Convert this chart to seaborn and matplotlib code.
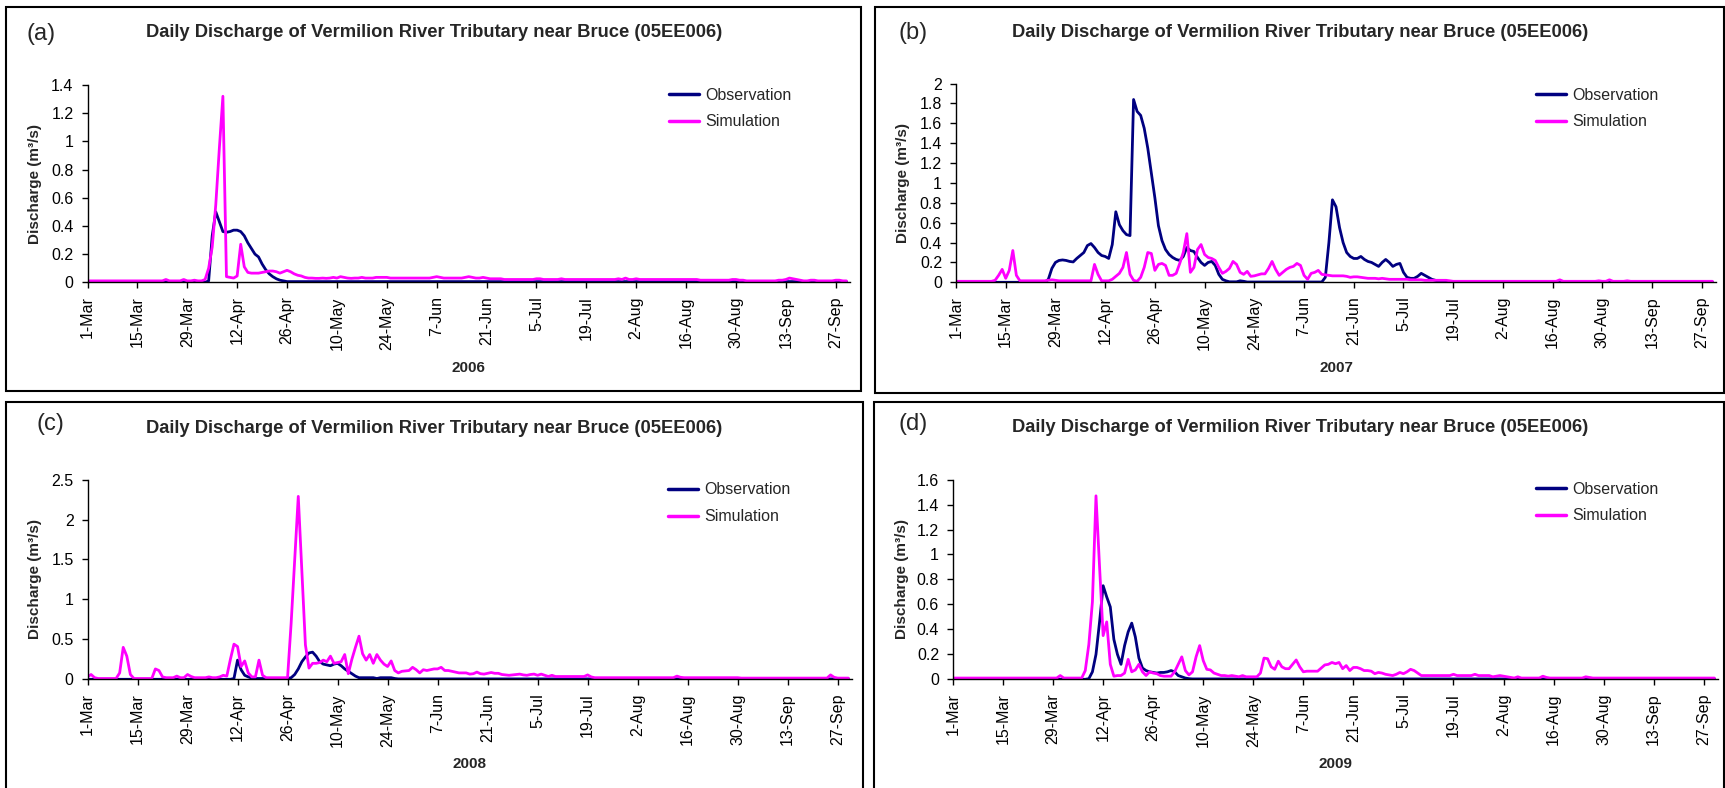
import numpy as np
import matplotlib
matplotlib.use("Agg")
import matplotlib.pyplot as plt
from matplotlib.patches import Rectangle
from matplotlib.lines import Line2D
from matplotlib.ticker import FuncFormatter
import seaborn as sns

# ---------------- data (daily values, 1-Mar .. 30-Sep) ----------------
TICK_LABELS = ["1-Mar", "15-Mar", "29-Mar", "12-Apr", "26-Apr", "10-May", "24-May", "7-Jun",
               "21-Jun", "5-Jul", "19-Jul", "2-Aug", "16-Aug", "30-Aug", "13-Sep", "27-Sep"]
YEARS = ["2006", "2007", "2008", "2009"]
PANEL_LABELS = ["(a)", "(b)", "(c)", "(d)"]
TITLE = "Daily Discharge of Vermilion River Tributary near Bruce (05EE006)"
SERIES_NAMES = ["Observation", "Simulation"]

OBS_2006 = ([0.0] * 34 +
            [0.01, 0.33, 0.50, 0.43, 0.36, 0.355, 0.36, 0.37, 0.37, 0.36, 0.33, 0.28, 0.24, 0.20,
             0.18, 0.13, 0.09, 0.06, 0.04, 0.025, 0.015, 0.01] +
            [0.005] * 158)
SIM_2006 = ([0.01] * 20 +
            [0.01, 0.01, 0.02, 0.01, 0.01, 0.01, 0.01, 0.02, 0.01, 0.01, 0.015, 0.01, 0.01] +
            [0.02, 0.10, 0.25, 0.55, 0.95, 1.32, 0.04, 0.035, 0.03, 0.045, 0.27, 0.11, 0.07, 0.065,
             0.065, 0.065, 0.07, 0.075, 0.08, 0.08, 0.075, 0.065, 0.075, 0.085, 0.075, 0.06, 0.05,
             0.045, 0.035, 0.03] +
            [0.03, 0.028, 0.028, 0.03, 0.028, 0.03, 0.035] +
            [0.03, 0.04, 0.035, 0.03, 0.028, 0.03, 0.03, 0.035, 0.03, 0.03, 0.03, 0.035, 0.035, 0.035] +
            [0.035, 0.03, 0.03, 0.03, 0.03, 0.03, 0.03, 0.03, 0.03, 0.03, 0.03, 0.03, 0.03, 0.035] +
            [0.04, 0.035, 0.03, 0.03, 0.03, 0.03, 0.03, 0.03, 0.035, 0.04, 0.035, 0.03, 0.03, 0.035] +
            [0.03, 0.025, 0.025, 0.025, 0.025, 0.02, 0.02, 0.02, 0.02, 0.02, 0.02, 0.02, 0.02, 0.02] +
            [0.025, 0.025, 0.02, 0.02, 0.02, 0.02, 0.02, 0.025, 0.02, 0.02, 0.02, 0.02, 0.02, 0.02] +
            [0.02, 0.02, 0.02, 0.02, 0.02, 0.02, 0.02, 0.02, 0.02, 0.025, 0.02, 0.03, 0.02, 0.02] +
            [0.025, 0.02, 0.02, 0.02, 0.02, 0.02, 0.02, 0.02, 0.02, 0.02, 0.02, 0.02, 0.02, 0.02] +
            [0.02, 0.02, 0.02, 0.02, 0.015, 0.015, 0.015, 0.015, 0.015, 0.015, 0.015, 0.015, 0.015, 0.02] +
            [0.02, 0.015, 0.015, 0.01, 0.01, 0.01, 0.01, 0.01, 0.01, 0.01, 0.01, 0.01, 0.015, 0.015] +
            [0.02, 0.03, 0.025, 0.02, 0.015, 0.01, 0.01, 0.015, 0.015, 0.01, 0.01, 0.01, 0.01, 0.01] +
            [0.015, 0.015, 0.01, 0.01])

OBS_2007 = ([0.0] * 26 +
            [0.03, 0.14, 0.20, 0.22, 0.225, 0.22, 0.21, 0.205, 0.24, 0.27, 0.30, 0.37, 0.39, 0.35,
             0.30, 0.27, 0.26, 0.24, 0.38, 0.71, 0.58, 0.52, 0.48, 0.47, 1.84, 1.72, 1.68, 1.55,
             1.35, 1.10, 0.85, 0.57, 0.42, 0.33, 0.28, 0.25, 0.23, 0.22, 0.26, 0.35, 0.32, 0.31,
             0.25, 0.20, 0.17, 0.20, 0.21, 0.17, 0.08, 0.03, 0.015, 0.005] +
            [0.005, 0.005, 0.015, 0.01] + [0.003] * 22 +
            [0.05, 0.40, 0.83, 0.76, 0.55, 0.40, 0.30, 0.26, 0.24, 0.24, 0.26, 0.23, 0.21, 0.20,
             0.18, 0.16, 0.20, 0.23, 0.20, 0.16, 0.18, 0.19, 0.10, 0.05, 0.04, 0.04, 0.06, 0.09,
             0.07, 0.05, 0.03, 0.02, 0.01, 0.005] +
            [0.003] * 76)
SIM_2007 = ([0.01] * 11 +
            [0.02, 0.07, 0.13, 0.04, 0.12, 0.32, 0.07, 0.015] +
            [0.015] * 7 + [0.02, 0.025, 0.02] + [0.015] * 9 +
            [0.015, 0.18, 0.08, 0.015, 0.015, 0.015, 0.03, 0.06, 0.09, 0.15, 0.30, 0.08, 0.02, 0.01,
             0.05, 0.15, 0.30, 0.29, 0.12, 0.18, 0.19, 0.17, 0.07, 0.07, 0.09, 0.19, 0.30, 0.49,
             0.10, 0.15, 0.33, 0.38, 0.28, 0.25, 0.24, 0.22, 0.15, 0.09, 0.11, 0.14, 0.21, 0.18,
             0.10, 0.08, 0.11, 0.06] +
            [0.065, 0.075, 0.085, 0.085, 0.14, 0.21, 0.13, 0.07, 0.10, 0.13,
             0.15, 0.16, 0.19, 0.17, 0.07, 0.03, 0.09, 0.10, 0.12, 0.08,
             0.075, 0.07, 0.065, 0.065, 0.065, 0.065, 0.06, 0.05, 0.055, 0.055,
             0.05, 0.045, 0.04, 0.04, 0.04, 0.035, 0.04, 0.035, 0.03, 0.03,
             0.03, 0.03, 0.03, 0.03, 0.025, 0.025, 0.025, 0.025, 0.02, 0.02,
             0.02, 0.02, 0.02, 0.02, 0.02, 0.015, 0.01] +
            [0.01] * 29 + [0.025, 0.01] + [0.01] * 9 +
            [0.015, 0.01, 0.01, 0.025, 0.01, 0.01, 0.01, 0.01, 0.015, 0.01] + [0.01] * 23)

OBS_2008 = ([0.0] * 41 +
            [0.01, 0.24, 0.12, 0.05, 0.03, 0.015, 0.01, 0.01, 0.01, 0.01, 0.01, 0.01, 0.01, 0.01,
             0.01, 0.01, 0.02, 0.06, 0.13, 0.22, 0.28, 0.33, 0.34, 0.29, 0.22, 0.19, 0.18, 0.17,
             0.19, 0.20, 0.17, 0.13, 0.10, 0.07, 0.04, 0.02, 0.02, 0.02, 0.02, 0.02, 0.01, 0.02,
             0.02, 0.02, 0.02, 0.01] +
            [0.005] * 127)
SIM_2008 = ([0.03, 0.06, 0.02, 0.01, 0.01, 0.01, 0.01, 0.01, 0.01, 0.08, 0.40, 0.29, 0.06, 0.01] +
            [0.01] * 5 +
            [0.13, 0.11, 0.03, 0.02, 0.02, 0.02, 0.04, 0.02, 0.02, 0.06, 0.035, 0.02, 0.02, 0.02,
             0.02, 0.03, 0.02, 0.02, 0.03, 0.05, 0.04, 0.25] +
            [0.44, 0.41, 0.16, 0.23, 0.08, 0.03, 0.03, 0.24, 0.05, 0.02, 0.02, 0.02, 0.02, 0.02,
             0.02, 0.02, 0.70, 1.50, 2.29, 1.35, 0.43, 0.14, 0.20, 0.20, 0.21, 0.24, 0.22, 0.29,
             0.20, 0.21, 0.22, 0.31] +
            [0.07, 0.25, 0.40, 0.54, 0.32, 0.24, 0.31, 0.20, 0.31, 0.24, 0.19, 0.16, 0.23, 0.11,
             0.08, 0.10, 0.105, 0.11, 0.15, 0.12, 0.08, 0.12, 0.11, 0.12, 0.13, 0.13, 0.15, 0.11,
             0.11, 0.10, 0.09, 0.08, 0.08, 0.08, 0.065, 0.07, 0.09, 0.07, 0.065, 0.075, 0.085,
             0.075, 0.075, 0.06, 0.055, 0.05, 0.055, 0.06] +
            [0.065, 0.055, 0.05, 0.06, 0.065, 0.05, 0.065, 0.05, 0.035, 0.05] +
            [0.035] * 9 + [0.055, 0.03] + [0.02] * 23 + [0.04, 0.025] + [0.02] * 16 +
            [0.015] * 25 + [0.055, 0.025] + [0.015] * 4)

OBS_2009 = ([0.0] * 38 +
            [0.005, 0.06, 0.20, 0.46, 0.75, 0.66, 0.58, 0.32, 0.20, 0.12, 0.27, 0.38, 0.45, 0.34,
             0.17, 0.09, 0.07, 0.06, 0.055, 0.05, 0.055, 0.055, 0.06, 0.07, 0.06, 0.03, 0.02, 0.01,
             0.005] +
            [0.003] * 147)
SIM_2009 = ([0.01] * 29 +
            [0.01, 0.03, 0.01, 0.01, 0.01, 0.01, 0.01, 0.01] +
            [0.07, 0.28, 0.62, 1.47, 0.90, 0.35, 0.46, 0.12, 0.025, 0.03, 0.03, 0.05, 0.16, 0.06,
             0.075, 0.12, 0.06, 0.03, 0.06, 0.05, 0.045, 0.03, 0.025, 0.025, 0.025, 0.06, 0.12,
             0.18, 0.07, 0.035, 0.06, 0.18, 0.27, 0.15, 0.08, 0.075, 0.05, 0.04, 0.03, 0.03, 0.025,
             0.03, 0.025, 0.02, 0.03, 0.02, 0.02] +
            [0.02, 0.02, 0.05, 0.17, 0.165, 0.10, 0.08, 0.145, 0.10, 0.085, 0.085, 0.12, 0.155,
             0.10, 0.06, 0.065, 0.065, 0.065, 0.065, 0.09, 0.115, 0.12, 0.135, 0.125, 0.135, 0.085,
             0.11, 0.07, 0.095, 0.095, 0.085, 0.07, 0.07, 0.065, 0.045, 0.055, 0.05, 0.04, 0.035,
             0.03, 0.04, 0.055, 0.045, 0.06, 0.08, 0.07, 0.05, 0.03] +
            [0.03] * 8 + [0.04] + [0.03] * 5 + [0.04] + [0.03] * 4 +
            [0.02, 0.025, 0.03, 0.025, 0.02, 0.015, 0.01, 0.02, 0.01] + [0.01] * 5 +
            [0.025, 0.015] + [0.01] * 10 + [0.02, 0.015, 0.01] + [0.01] * 34)

OBS = [OBS_2006, OBS_2007, OBS_2008, OBS_2009]
SIM = [SIM_2006, SIM_2007, SIM_2008, SIM_2009]
Y_MAX = [1.4, 2.0, 2.5, 1.6]
Y_STEP = [0.2, 0.2, 0.5, 0.2]

# ---------------- style ----------------
sns.set_style("ticks")
plt.rcParams["font.family"] = ["Liberation Sans", "DejaVu Sans"]

W, H = 1725, 788
fig = plt.figure(figsize=(W / 100, H / 100), dpi=100)


def fx(px):
    return px / W


def fy(py):
    return 1 - py / H


OBS_COLOR = "#000080"
SIM_COLOR = "#FF00FF"

# panel geometry (pixels)
AX_BOX = [(87.5, 850, 85, 282.3), (956, 1716, 83.6, 282.3),
          (87.5, 852, 479.6, 679.3), (953, 1718, 479.6, 679.3)]
PANEL_BOX = [(5.5, 861, 6.5, 391), (875, 1724, 6.5, 393),
             (6, 863, 402, 790), (874, 1724, 402, 790)]
LABEL_POS = [(26, 34), (899, 33), (36, 424), (899, 424)]
TITLE_POS = [(434, 32.5), (1300, 32.5), (434, 428.5), (1300, 427)]
YLAB_X = [35, 903.5, 35.5, 902]
XLAB_Y = [368, 368, 764, 764]
LEG_POS = [(669, 87.5), (1536, 87.5), (668, 482.5), (1536, 481.5)]

tick_pos = np.arange(0, 14 * len(TICK_LABELS), 14)

for i in range(4):
    L, R, T, B = AX_BOX[i]
    ax = fig.add_axes([fx(L), fy(B), (R - L) / W, (B - T) / H])
    obs = np.array(OBS[i])
    sim = np.array(SIM[i])
    sns.lineplot(x=np.arange(len(obs)), y=obs, ax=ax, color=OBS_COLOR, linewidth=2.0,
                 label=SERIES_NAMES[0])
    sns.lineplot(x=np.arange(len(sim)), y=sim, ax=ax, color=SIM_COLOR, linewidth=2.0,
                 label=SERIES_NAMES[1])
    ax.set_xlim(0, 214)
    ax.set_ylim(0, Y_MAX[i])
    ax.set_yticks(np.round(np.arange(0, Y_MAX[i] + 1e-9, Y_STEP[i]), 2))
    ax.yaxis.set_major_formatter(FuncFormatter(lambda v, p: "%g" % v))
    ax.set_xticks(tick_pos)
    ax.set_xticklabels(TICK_LABELS, rotation=90)
    ax.tick_params(axis="both", labelsize=11.5, length=4, width=1, direction="out",
                   pad=6, colors="black")
    ax.set_xlabel("")
    ax.set_ylabel("")
    for s in ["top", "right"]:
        ax.spines[s].set_visible(False)
    for s in ["left", "bottom"]:
        ax.spines[s].set_color("black")
        ax.spines[s].set_linewidth(1.0)
    ax.patch.set_alpha(0)

    handles = [Line2D([], [], color=OBS_COLOR, linewidth=2.5),
               Line2D([], [], color=SIM_COLOR, linewidth=2.5)]
    lx, ly = LEG_POS[i]
    ax.legend(handles, SERIES_NAMES, loc="upper left", bbox_to_anchor=(fx(lx), fy(ly)),
              bbox_transform=fig.transFigure, frameon=False, fontsize=11.5, borderpad=0,
              borderaxespad=0, handlelength=1.9, handletextpad=0.4, labelspacing=0.75)

    # texts
    fig.text(fx(LABEL_POS[i][0]), fy(LABEL_POS[i][1]), PANEL_LABELS[i], fontsize=17,
             ha="left", va="center")
    fig.text(fx(TITLE_POS[i][0]), fy(TITLE_POS[i][1]), TITLE, fontsize=13.2, fontweight="bold",
             ha="center", va="center")
    fig.text(fx(YLAB_X[i]), fy((T + B) / 2), "Discharge (m\u00b3/s)", fontsize=11,
             fontweight="bold", rotation=90, ha="center", va="center")
    fig.text(fx((L + R) / 2), fy(XLAB_Y[i]), YEARS[i], fontsize=11, fontweight="bold",
             ha="center", va="center")

    # panel frame
    x0, x1, y0, y1 = PANEL_BOX[i]
    fig.patches.append(Rectangle((fx(x0), fy(y1)), (x1 - x0) / W, (y1 - y0) / H,
                                 transform=fig.transFigure, fill=False, edgecolor="black",
                                 linewidth=1.5, zorder=0))

fig.savefig("out.png", dpi=100)
